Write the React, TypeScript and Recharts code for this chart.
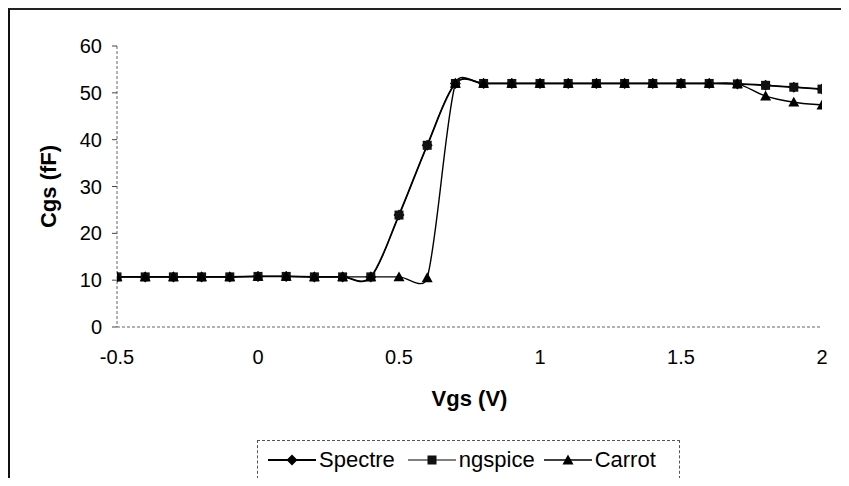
import React from "react";
import { LineChart, Line, XAxis, YAxis, Label } from "recharts";

const vgs = [-0.5, -0.4, -0.3, -0.2, -0.1, 0, 0.1, 0.2, 0.3, 0.4, 0.5, 0.6, 0.7, 0.8, 0.9, 1, 1.1, 1.2, 1.3, 1.4, 1.5, 1.6, 1.7, 1.8, 1.9, 2];
const spectre = [10.7, 10.7, 10.7, 10.7, 10.7, 10.8, 10.8, 10.7, 10.7, 10.7, 23.9, 38.8, 52, 52, 52, 52, 52, 52, 52, 52, 52, 52, 51.9, 51.6, 51.2, 50.8];
const ngspice = [10.7, 10.7, 10.7, 10.7, 10.7, 10.8, 10.8, 10.7, 10.7, 10.7, 23.9, 38.8, 52, 52, 52, 52, 52, 52, 52, 52, 52, 52, 51.9, 51.6, 51.2, 50.8];
const carrot = [10.7, 10.7, 10.7, 10.7, 10.7, 10.8, 10.8, 10.7, 10.7, 10.7, 10.7, 10.5, 52, 52, 52, 52, 52, 52, 52, 52, 52, 52, 51.9, 49.3, 48, 47.4];
const xTicks = [-0.5, 0, 0.5, 1, 1.5, 2];
const yTicks = [0, 10, 20, 30, 40, 50, 60];

const data = vgs.map((v, i) => ({ v, spectre: spectre[i], ngspice: ngspice[i], carrot: carrot[i] }));

const FONT = "'Liberation Sans', Arial, sans-serif";
const tickStyle = { fontSize: 20, fontFamily: FONT };

// Excel-like smoothed line: Catmull-Rom bezier with control points clamped to half the segment
function ctrl(a: number[], b: number[], seg: number) {
  let dx = (b[0] - a[0]) / 6;
  let dy = (b[1] - a[1]) / 6;
  const l = Math.hypot(dx, dy);
  const max = seg / 2;
  if (l > max && l > 0) {
    dx *= max / l;
    dy *= max / l;
  }
  return [dx, dy];
}

const excelSmooth = (context: any) => {
  let pts: number[][] = [];
  return {
    areaStart() {},
    areaEnd() {},
    lineStart() {
      pts = [];
    },
    point(x: number, y: number) {
      pts.push([+x, +y]);
    },
    lineEnd() {
      const n = pts.length;
      if (!n) return;
      context.moveTo(pts[0][0], pts[0][1]);
      for (let i = 0; i < n - 1; i++) {
        const p0 = pts[Math.max(i - 1, 0)];
        const p1 = pts[i];
        const p2 = pts[i + 1];
        const p3 = pts[Math.min(i + 2, n - 1)];
        const seg = Math.hypot(p2[0] - p1[0], p2[1] - p1[1]);
        const a = ctrl(p0, p2, seg);
        const b = ctrl(p1, p3, seg);
        context.bezierCurveTo(p1[0] + a[0], p1[1] + a[1], p2[0] - b[0], p2[1] - b[1], p2[0], p2[1]);
      }
    },
  };
};

const Diamond = ({ cx, cy, r = 5.5 }: any) => (
  <polygon points={`${cx},${cy - r} ${cx + r},${cy} ${cx},${cy + r} ${cx - r},${cy}`} fill="#000" />
);
const Square = ({ cx, cy, r = 4.5 }: any) => (
  <rect x={cx - r} y={cy - r} width={r * 2} height={r * 2} fill="#111" />
);
const Triangle = ({ cx, cy, r = 5.5 }: any) => (
  <polygon points={`${cx},${cy - r} ${cx + r},${cy + r * 0.8} ${cx - r},${cy + r * 0.8}`} fill="#000" />
);

const series = [
  { key: "spectre", name: "Spectre", Mark: Diamond, width: 1.8, gap: 13 },
  { key: "ngspice", name: "ngspice", Mark: Square, width: 1, gap: 9 },
  { key: "carrot", name: "Carrot", Mark: Triangle, width: 1.4, gap: 0 },
];

const LegendIcon = ({ Mark, width }: any) => (
  <svg width={48} height={16} style={{ display: "block" }}>
    <line x1={0} y1={8} x2={48} y2={8} stroke="#000" strokeWidth={width} />
    <Mark cx={24} cy={8} />
  </svg>
);

const XTick = ({ x, y, payload }: any) => (
  <text x={x} y={y} dy={15} textAnchor="middle" fill="#000" style={tickStyle}>
    {payload.value}
  </text>
);

const YTick = ({ x, y, payload }: any) => (
  <text x={x} y={y} dy={7} textAnchor="end" fill="#000" style={tickStyle}>
    {payload.value}
  </text>
);

export default function App() {
  return (
    <div style={{ margin: -8, position: "relative", width: 849, height: 486, overflow: "hidden", background: "#fff", fontFamily: FONT }}>
      <div style={{ position: "absolute", left: 8, top: 8, width: 900, height: 600, borderLeft: "2px solid #111", borderTop: "2px solid #222" }} />
      <LineChart width={849} height={486} data={data} margin={{ top: 46, right: 27, bottom: 119, left: 0 }} style={{ position: "absolute", left: 0, top: 0 }}>
        <XAxis
          dataKey="v"
          type="number"
          domain={[-0.5, 2]}
          ticks={xTicks}
          allowDataOverflow
          tickSize={0}
          tickMargin={22}
          height={40}
          axisLine={{ stroke: "#666", strokeDasharray: "3 2" }}
          tick={(p: any) => <XTick {...p} key={`xt-${p.index}`} />}
        >
          <Label
            content={({ viewBox }: any) => (
              <text x={viewBox.x + viewBox.width / 2} y={398} textAnchor="middle" dominantBaseline="central" fontWeight="bold" fill="#000" style={{ fontSize: 22, fontFamily: FONT }}>
                Vgs (V)
              </text>
            )}
          />
        </XAxis>
        <YAxis
          type="number"
          domain={[0, 60]}
          ticks={yTicks}
          width={117}
          tickSize={5}
          tickMargin={10}
          axisLine={{ stroke: "#666", strokeDasharray: "3 2" }}
          tickLine={{ stroke: "#444" }}
          tick={(p: any) => <YTick {...p} key={`yt-${p.index}`} />}
        >
          <Label
            content={({ viewBox }: any) => {
              const cy = viewBox.y + viewBox.height / 2;
              return (
                <text x={48} y={cy} transform={`rotate(-90 48 ${cy})`} textAnchor="middle" dominantBaseline="central" fontWeight="bold" fill="#000" style={{ fontSize: 22, fontFamily: FONT }}>
                  Cgs (fF)
                </text>
              );
            }}
          />
        </YAxis>
        {series.map((s) => (
          <Line
            key={s.key}
            dataKey={s.key}
            type={excelSmooth as any}
            stroke="#000"
            strokeWidth={s.width}
            isAnimationActive={false}
            dot={(p: any) => <s.Mark key={`${s.key}-${p.index}`} cx={p.cx} cy={p.cy} />}
            activeDot={false}
          />
        ))}
      </LineChart>
      <div
        style={{
          position: "absolute",
          left: 257,
          top: 440,
          width: 423,
          height: 44,
          border: "1px dashed #555",
          display: "flex",
          alignItems: "center",
          paddingLeft: 10,
          paddingBottom: 5,
          boxSizing: "border-box",
          fontSize: 22,
          color: "#000",
          whiteSpace: "nowrap",
        }}
      >
        {series.map((s) => (
          <div key={s.key} style={{ display: "flex", alignItems: "center", marginRight: s.gap }}>
            <LegendIcon Mark={s.Mark} width={s.width} />
            <span style={{ marginLeft: 3 }}>{s.name}</span>
          </div>
        ))}
      </div>
    </div>
  );
}
